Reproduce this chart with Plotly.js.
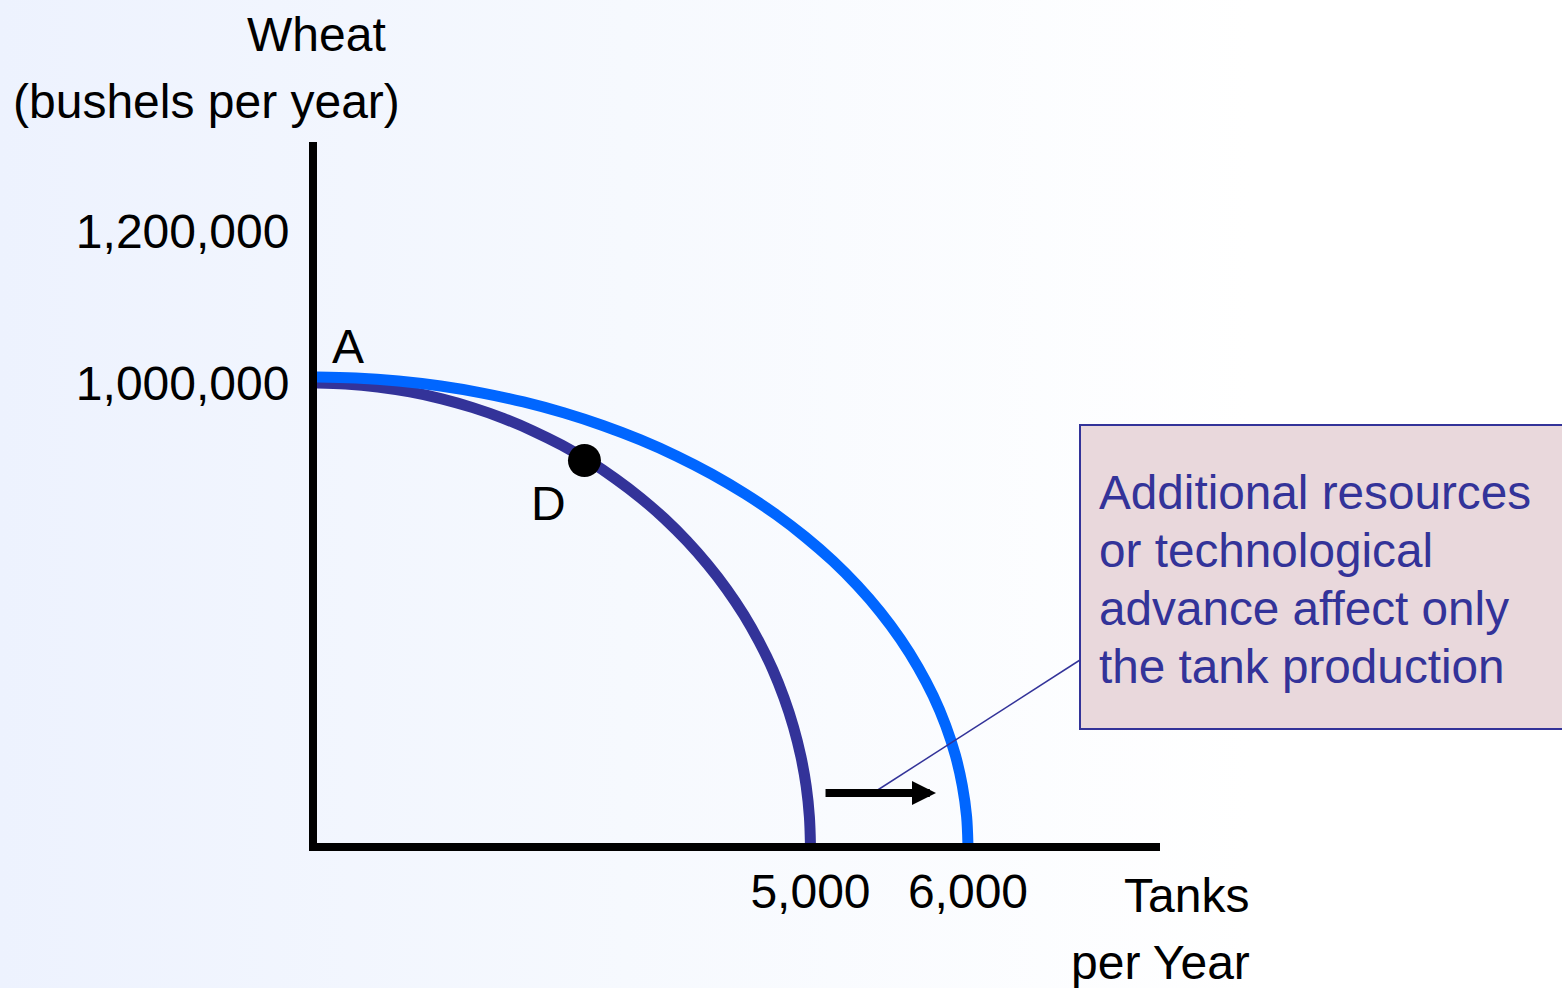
<!DOCTYPE html>
<html>
<head>
<meta charset="utf-8">
<script src="https://cdn.plot.ly/plotly-3.0.1.min.js"></script>
<style>
  html, body { margin: 0; padding: 0; }
  body { width: 1562px; height: 988px; overflow: hidden;
         background: linear-gradient(to right, #EDF2FE 0%, #F6F9FE 40%, #FFFFFF 80%); }
  #chart { width: 1562px; height: 988px; }
</style>
</head>
<body>
<div id="chart"></div>
<script>
// Original production possibilities frontier (tanks vs wheat)
const tanksOriginal = [1841, 2048, 2253, 2457, 2659, 2856, 3050, 3238, 3421, 3596, 3764, 3924, 4075,
  4216, 4347, 4468, 4577, 4674, 4760, 4832, 4892, 4939, 4973, 4993, 5000];
const wheatOriginal = [1000000, 998700, 994800, 988300, 979200, 967600, 953500, 937000, 918200, 897100,
  873800, 848500, 821200, 792000, 761100, 728700, 694800, 659500, 623100, 585700, 547500, 508600,
  469200, 429400, 389500];
// Frontier after additional resources / technological advance in tanks
const tanksNew = [1841, 2113, 2384, 2652, 2917, 3178, 3433, 3681, 3921, 4152, 4373, 4583, 4782,
  4968, 5141, 5299, 5443, 5571, 5683, 5779, 5858, 5920, 5964, 5991, 6000];
const wheatNew = [1007900, 1006600, 1002600, 996000, 986800, 975100, 960800, 944100, 925100, 903700,
  880100, 854400, 826800, 797200, 766000, 733100, 698700, 663000, 626100, 588300, 549600, 510100,
  470200, 429900, 389500];
// Point D on original frontier
const pointDTanks = [3565];
const pointDWheat = [898000];
// Tick labels
const xTickVals = [5000, 6000];
const xTickText = ['5,000', '6,000'];
const yTickVals = [1000000, 1200000];
const yTickText = ['1,000,000', '1,200,000'];
// Texts
const yTitleLines = ['Wheat', '(bushels per year)'];
const xTitleLines = ['Tanks', 'per Year'];
const noteLines = ['Additional resources', 'or technological', 'advance affect only', 'the tank production'];

const FONT = 'Liberation Sans, Arial, Helvetica, sans-serif';
const L = 317, R = 1160, T = 142, B = 843;
const px = x => (x - L) / (R - L);
const py = y => (B - y) / (B - T);

const traces = [
  { x: tanksOriginal, y: wheatOriginal, type: 'scatter', mode: 'lines',
    line: { color: '#333399', width: 11, shape: 'spline', smoothing: 1, simplify: false }, hoverinfo: 'skip' },
  { x: tanksNew, y: wheatNew, type: 'scatter', mode: 'lines',
    line: { color: '#0066FF', width: 11, shape: 'spline', smoothing: 1, simplify: false }, hoverinfo: 'skip' },
  { x: pointDTanks, y: pointDWheat, type: 'scatter', mode: 'markers',
    marker: { color: '#000000', size: 33 }, hoverinfo: 'skip', cliponaxis: false }
];

function txt(text, x, y, xanchor, color, size) {
  return { text: text, xref: 'paper', yref: 'paper', x: px(x), y: py(y),
    xanchor: xanchor, yanchor: 'middle', showarrow: false,
    font: { family: FONT, size: size || 48, color: color || '#000000' } };
}

const annotations = [
  txt(yTitleLines[0], 316.5, 34, 'center'),
  txt(yTitleLines[1], 206, 101, 'center'),
  txt('A', 348, 346, 'center'),
  txt('D', 548, 503, 'center'),
  txt(xTitleLines[0], 1251, 895, 'right'),
  txt(xTitleLines[1], 1252, 963, 'right'),
  txt(noteLines[0], 1097, 492, 'left', '#333399', 47.7),
  txt(noteLines[1], 1097, 550, 'left', '#333399', 47.7),
  txt(noteLines[2], 1097, 608, 'left', '#333399', 47.7),
  txt(noteLines[3], 1097, 666, 'left', '#333399', 47.7),
  { x: 5797, y: 460526, ax: 5086, ay: 460526, xref: 'x', yref: 'y', axref: 'x', ayref: 'y',
    text: '', showarrow: true, arrowhead: 2, arrowwidth: 8, arrowsize: 0.6,
    arrowcolor: '#000000', standoff: 0, startstandoff: 0 }
];

const shapes = [
  { type: 'rect', xref: 'paper', yref: 'paper', x0: px(1080), x1: px(1575), y0: py(729), y1: py(425),
    fillcolor: '#E9D8DC', line: { color: '#333399', width: 2 }, layer: 'above' },
  { type: 'line', xref: 'x', yref: 'y', x0: 5397, y0: 460526, x1: 6711, y1: 635526,
    line: { color: '#333399', width: 1.5 }, layer: 'above' }
];

const layout = {
  width: 1562, height: 988,
  margin: { l: L, r: 1562 - R, t: T, b: 988 - B, pad: 0 },
  paper_bgcolor: 'rgba(0,0,0,0)', plot_bgcolor: 'rgba(0,0,0,0)',
  showlegend: false,
  font: { family: FONT, size: 48, color: '#000000' },
  xaxis: { range: [1867, 7219], showline: true, linewidth: 8, linecolor: '#000000',
    showgrid: false, zeroline: false, ticks: '', tickmode: 'array',
    tickvals: xTickVals, ticktext: xTickText, tickfont: { family: FONT, size: 48, color: '#000' },
    ticklabelstandoff: -1, fixedrange: true },
  yaxis: { range: [394737, 1317105], showline: true, linewidth: 8, linecolor: '#000000',
    showgrid: false, zeroline: false, ticks: '', tickmode: 'array',
    tickvals: yTickVals, ticktext: yTickText, tickfont: { family: FONT, size: 48, color: '#000' },
    ticklabelstandoff: 10, fixedrange: true },
  annotations: annotations,
  shapes: shapes
};

Plotly.newPlot('chart', traces, layout, { staticPlot: true, displayModeBar: false });
</script>
</body>
</html>
